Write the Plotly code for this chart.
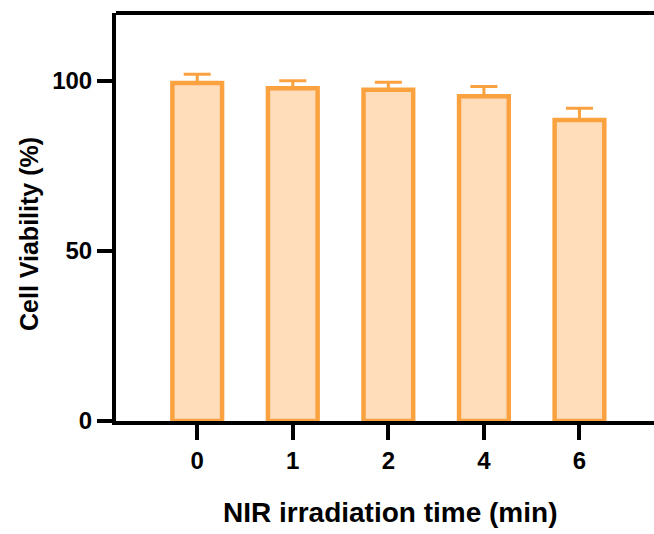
import plotly.graph_objects as go

categories = ["0", "1", "2", "4", "6"]
viability = [99.4, 97.9, 97.4, 95.5, 88.5]
errors = [2.6, 2.2, 2.2, 2.9, 3.5]
y_ticks = [0, 50, 100]

W, H = 654, 534
ml, mt, mb = 116, 13, 534 - 421
FONT = "Arial, Liberation Sans, sans-serif"
ORANGE = "#FBA240"
FILL = "#FFDDBB"

fig = go.Figure()
fig.add_trace(go.Bar(
    x=list(range(len(categories))), y=viability, width=0.52,
    marker=dict(color=FILL, line=dict(color=ORANGE, width=4.5)),
    error_y=dict(type="data", array=errors, arrayminus=[0]*len(errors), symmetric=False,
                 color=ORANGE, thickness=3, width=13.5),
))

fig.update_layout(
    width=W, height=H, margin=dict(l=ml, r=0, t=mt, b=mb),
    paper_bgcolor="white", plot_bgcolor="white", showlegend=False,
    font=dict(family=FONT, color="black"),
    xaxis=dict(range=[-0.85, 4.78], tickmode="array", tickvals=list(range(len(categories))),
               ticktext=["<b>%s</b>" % c for c in categories], showline=True, linecolor="black", linewidth=4,
               ticks="outside", ticklen=15, tickwidth=4, tickcolor="black",
               tickfont=dict(family=FONT, size=24), showgrid=False, zeroline=False),
    yaxis=dict(range=[0, 120], tickmode="array", tickvals=y_ticks,
               ticktext=["<b>%d</b>" % v for v in y_ticks],
               showline=True, linecolor="black", linewidth=4,
               ticks="outside", ticklen=15, tickwidth=4, tickcolor="black",
               tickfont=dict(family=FONT, size=24), showgrid=False, zeroline=False),
    shapes=[dict(type="line", xref="paper", yref="paper", x0=0, x1=1.01, y0=1, y1=1,
                 line=dict(color="black", width=4))],
    annotations=[
        dict(text="<b>NIR irradiation time (min)</b>", xref="paper", yref="paper",
             x=(390 - ml) / (W - ml), y=-(512 - 421) / (421 - mt), xanchor="center", yanchor="middle",
             showarrow=False, font=dict(family=FONT, size=28)),
        dict(text="<b>Cell Viability (%)</b>", xref="paper", yref="paper", textangle=-90,
             x=-(ml - 29) / (W - ml), y=(421 - 234) / (421 - mt), xanchor="center", yanchor="middle",
             showarrow=False, font=dict(family=FONT, size=25)),
    ],
)
fig.write_html("out.html")
